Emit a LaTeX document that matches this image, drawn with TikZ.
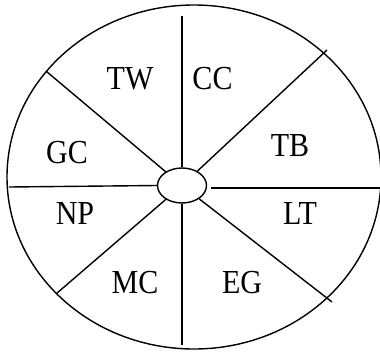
\documentclass[tikz,border=0pt]{standalone}
\usepackage{fontspec}
\setmainfont{Liberation Serif}
\usetikzlibrary{shapes.geometric}
\newcommand{\tallt}[1]{\scalebox{1}[1.12]{#1}}
\begin{document}
\begin{tikzpicture}[x=1pt,y=-1pt,
  ln/.style={line width=1.4pt},
  lbl/.style={font=\fontsize{30}{34}\selectfont, inner sep=0pt}]
\useasboundingbox (0,0) rectangle (380,351);
\draw[ln] (194,177) ellipse [x radius=187, y radius=172];
\node[ellipse, draw, line width=1.4pt, minimum width=49pt, minimum height=35pt, inner sep=0pt] (s) at (182,185.5) {};
\coordinate (top) at (182,16);
\coordinate (bot) at (182,345);
\coordinate (lft) at (9,187);
\coordinate (rgtA) at (211,188);
\coordinate (rgtB) at (381,188);
\coordinate (ur) at (327,50);
\coordinate (lr) at (332,302);
\coordinate (ul) at (46.5,71.5);
\coordinate (ll) at (56.5,293.5);
\draw[ln] (s.north) -- (top);
\draw[ln] (s.south) -- (bot);
\draw[ln] (s.west) -- (lft);
\draw[ln] (rgtA) -- (rgtB);
\draw[ln] (s) -- (ur);
\draw[ln] (s) -- (lr);
\draw[ln] (s) -- (ul);
\draw[ln] (s) -- (ll);
\node[lbl] (tw) at (130,79) {\tallt{TW}};
\node[lbl] (cc) at (212.5,79) {\tallt{CC}};
\node[lbl] (tb) at (290,146) {\tallt{TB}};
\node[lbl] (gc) at (67,153) {\tallt{GC}};
\node[lbl] (np) at (75,213) {\tallt{NP}};
\node[lbl] (lt) at (300,213) {\tallt{LT}};
\node[lbl] (mc) at (135,283) {\tallt{MC}};
\node[lbl] (eg) at (242,283) {\tallt{EG}};
\end{tikzpicture}
\end{document}
